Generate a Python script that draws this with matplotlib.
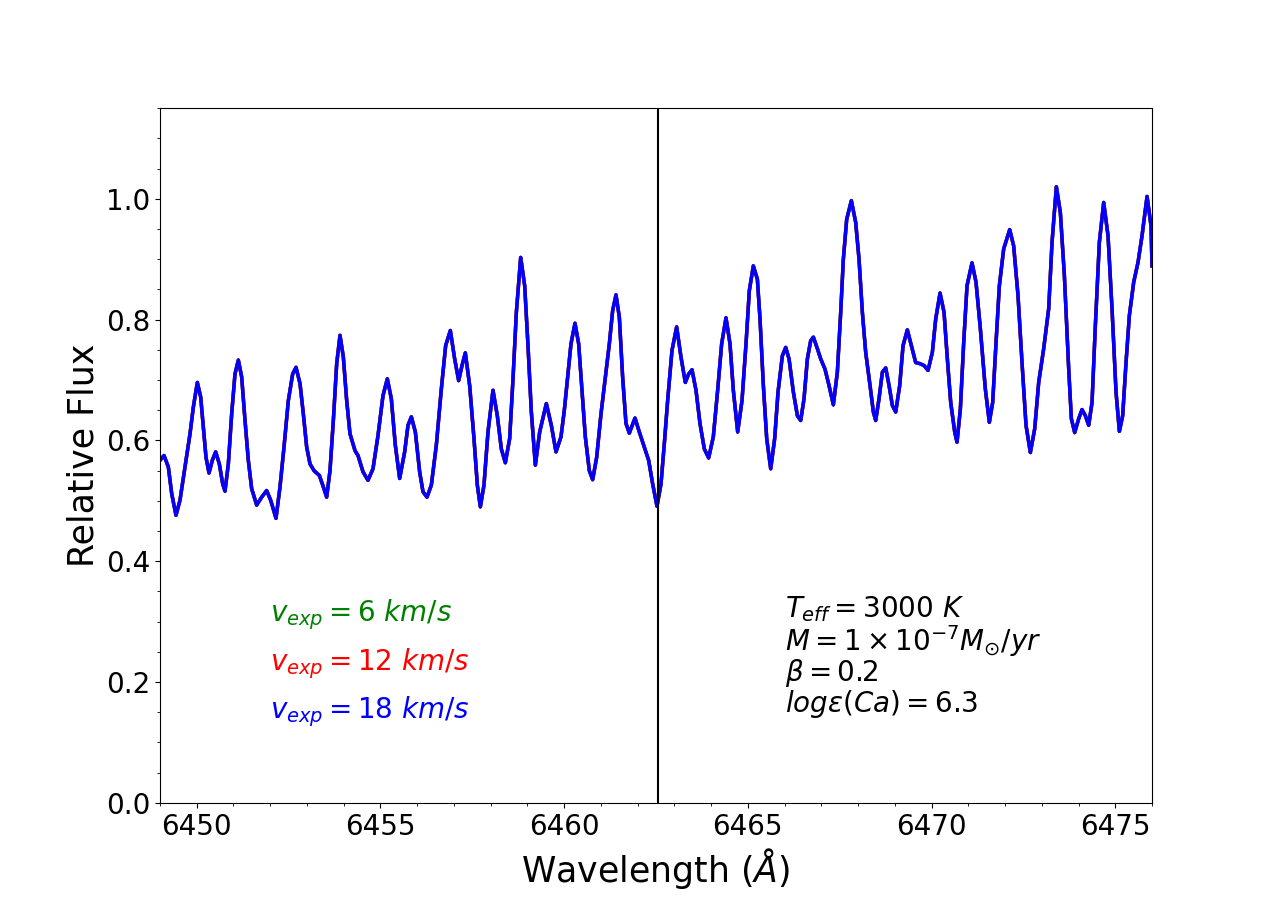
"""
Synthetic Ca I 6462 spectrum for three wind expansion velocities.
"""
import matplotlib
matplotlib.use('Agg')
import matplotlib.pyplot as plt

wavelength = [
    6449.000, 6449.109, 6449.227, 6449.318, 6449.435, 6449.544, 6449.680, 6449.817,
    6449.907, 6450.016, 6450.107, 6450.179, 6450.252, 6450.334, 6450.424, 6450.515,
    6450.615, 6450.706, 6450.769, 6450.860, 6450.951, 6451.041, 6451.132, 6451.223,
    6451.314, 6451.404, 6451.495, 6451.631, 6451.767, 6451.903, 6452.012, 6452.157,
    6452.266, 6452.375, 6452.493, 6452.611, 6452.702, 6452.811, 6452.901, 6452.992,
    6453.083, 6453.192, 6453.337, 6453.446, 6453.536, 6453.627, 6453.718, 6453.809,
    6453.899, 6453.990, 6454.081, 6454.171, 6454.308,
    6454.389, 6454.525, 6454.661, 6454.797, 6454.933, 6455.069, 6455.187, 6455.296,
    6455.405, 6455.523, 6455.659, 6455.750, 6455.841, 6455.950, 6456.067, 6456.158,
    6456.267, 6456.385, 6456.521, 6456.657, 6456.775, 6456.902, 6457.020, 6457.129,
    6457.220, 6457.310, 6457.428, 6457.546, 6457.637, 6457.719, 6457.818, 6457.927,
    6458.063, 6458.181, 6458.290, 6458.399, 6458.517, 6458.608, 6458.699, 6458.817,
    6458.926, 6459.016, 6459.107, 6459.216, 6459.334, 6459.515, 6459.651, 6459.778,
    6459.914, 6460.005, 6460.096, 6460.186, 6460.295, 6460.395, 6460.486, 6460.576,
    6460.685, 6460.776, 6460.885, 6461.003, 6461.121, 6461.230, 6461.320, 6461.411,
    6461.502, 6461.592, 6461.683, 6461.774, 6461.928, 6462.046, 6462.182, 6462.300,
    6462.409, 6462.527, 6462.636, 6462.727, 6462.817, 6462.935, 6463.062, 6463.180,
    6463.298, 6463.389, 6463.480, 6463.589, 6463.697, 6463.815, 6463.933, 6464.060,
    6464.178, 6464.287, 6464.405, 6464.514, 6464.605, 6464.723, 6464.841, 6464.950,
    6465.040, 6465.149,
    6465.259, 6465.331, 6465.422, 6465.513, 6465.622, 6465.730, 6465.821, 6465.939,
    6466.030, 6466.121, 6466.239, 6466.348, 6466.438, 6466.529, 6466.620, 6466.710,
    6466.783, 6466.892, 6466.983, 6467.100, 6467.209, 6467.327, 6467.436, 6467.527,
    6467.599, 6467.690, 6467.817, 6467.935, 6468.026, 6468.117, 6468.207, 6468.325,
    6468.416, 6468.480, 6468.570, 6468.661, 6468.752, 6468.843, 6468.933, 6469.024,
    6469.133, 6469.224, 6469.341, 6469.450, 6469.568, 6469.686, 6469.795, 6469.904,
    6470.022, 6470.113, 6470.231, 6470.340, 6470.430, 6470.521,
    6470.630, 6470.693, 6470.784, 6470.875, 6470.965, 6471.101, 6471.210, 6471.328,
    6471.464, 6471.573, 6471.664, 6471.755, 6471.845, 6471.963, 6472.127, 6472.235,
    6472.353, 6472.462, 6472.571, 6472.689, 6472.807, 6472.916, 6473.052, 6473.188,
    6473.279, 6473.397, 6473.506, 6473.615, 6473.733, 6473.805, 6473.896, 6474.005,
    6474.095, 6474.186, 6474.277, 6474.368, 6474.458, 6474.567, 6474.685, 6474.803,
    6474.912, 6475.021, 6475.112, 6475.202, 6475.293, 6475.384, 6475.502, 6475.620,
    6475.729, 6475.865, 6475.974, 6476.000,
]

flux_18 = [
    0.567, 0.575, 0.556, 0.512, 0.476, 0.501, 0.556, 0.611,
    0.655, 0.696, 0.672, 0.622, 0.572, 0.546, 0.567, 0.581,
    0.561, 0.528, 0.516, 0.561, 0.644, 0.710, 0.733, 0.705,
    0.633, 0.567, 0.520, 0.493, 0.506, 0.517, 0.501, 0.471,
    0.523, 0.589, 0.666, 0.710, 0.721, 0.694, 0.644, 0.589,
    0.561, 0.550, 0.542, 0.523, 0.506, 0.550, 0.633, 0.727,
    0.774, 0.738, 0.666, 0.611, 0.583,
    0.575, 0.548, 0.534, 0.553, 0.608, 0.674, 0.702, 0.669,
    0.592, 0.537, 0.581, 0.625, 0.639, 0.614, 0.548, 0.515,
    0.506, 0.526, 0.592, 0.685, 0.757, 0.782, 0.735, 0.699,
    0.724, 0.745, 0.691, 0.603, 0.526, 0.490, 0.526, 0.614,
    0.683, 0.641, 0.586, 0.563, 0.603, 0.702, 0.812, 0.903,
    0.856, 0.757, 0.647, 0.559, 0.614, 0.661, 0.625, 0.581,
    0.606, 0.650, 0.705, 0.760, 0.794, 0.760, 0.683, 0.606,
    0.550, 0.535, 0.572, 0.644, 0.705, 0.760, 0.815, 0.841,
    0.804, 0.705, 0.628, 0.612, 0.637, 0.614, 0.589, 0.567,
    0.528, 0.491, 0.528, 0.595, 0.666, 0.749, 0.788, 0.738,
    0.696, 0.710, 0.717, 0.683, 0.628, 0.586, 0.571, 0.606,
    0.683, 0.760, 0.803, 0.760, 0.683, 0.614, 0.666, 0.760,
    0.848, 0.889,
    0.867, 0.801, 0.691, 0.603, 0.553, 0.603, 0.680, 0.740,
    0.754, 0.735, 0.680, 0.641, 0.633, 0.669, 0.735, 0.765,
    0.771, 0.752, 0.735, 0.718, 0.691, 0.659, 0.713, 0.812,
    0.900, 0.966, 0.997, 0.961, 0.900, 0.812, 0.746, 0.691,
    0.647, 0.633, 0.669, 0.713, 0.720, 0.691, 0.658, 0.647,
    0.691, 0.757, 0.783, 0.757, 0.729, 0.727, 0.724, 0.716,
    0.746, 0.801, 0.844, 0.812, 0.735, 0.663,
    0.614, 0.597, 0.652, 0.762, 0.856, 0.894, 0.862, 0.785,
    0.685, 0.630, 0.663, 0.762, 0.856, 0.917, 0.949, 0.922,
    0.840, 0.729, 0.625, 0.580, 0.619, 0.696, 0.752, 0.818,
    0.928, 1.020, 0.977, 0.873, 0.718, 0.636, 0.613, 0.636,
    0.651, 0.641, 0.625, 0.663, 0.790, 0.928, 0.994, 0.939,
    0.818, 0.680, 0.615, 0.641, 0.729, 0.807, 0.862, 0.895,
    0.939, 1.004, 0.955, 0.889,
]
# the 6 and 12 km/s models lie exactly under the 18 km/s one
flux_6 = list(flux_18)
flux_12 = list(flux_18)

ca_line = 6462.55
labels = [r'$v_{exp} = 6\ km/s$', r'$v_{exp} = 12\ km/s$', r'$v_{exp} = 18\ km/s$']
label_y = [0.30, 0.22, 0.14]
colors = ['green', 'red', 'blue']
params = ('$T_{eff} = 3000\\ K$\n'
          '$M = 1 \\times 10^{-7} M_{\\odot}/yr$\n'
          '$\\beta = 0.2$\n'
          '$log\\epsilon(Ca) = 6.3$')


def main():
    fig = plt.figure(figsize=(12.8, 9.02), dpi=100)
    ax = fig.add_subplot(111)
    for flux, col in zip([flux_6, flux_12, flux_18], colors):
        ax.plot(wavelength, flux, color=col, lw=2.5, solid_joinstyle='round')
    ax.axvline(ca_line, color='k', lw=1.5)
    for text, y, col in zip(labels, label_y, colors):
        ax.text(6452.0, y, text, color=col, fontsize=20)
    ax.text(6466.0, 0.15, params, fontsize=20, linespacing=0.95)
    ax.set_xlim(6449, 6476)
    ax.set_ylim(0, 1.15)
    ax.minorticks_on()
    ax.tick_params(labelsize=20)
    ax.set_xlabel(r'Wavelength ($\AA$)', fontsize=25)
    ax.set_ylabel('Relative Flux', fontsize=25)
    fig.savefig('out.png', dpi=100)


if __name__ == '__main__':
    main()
